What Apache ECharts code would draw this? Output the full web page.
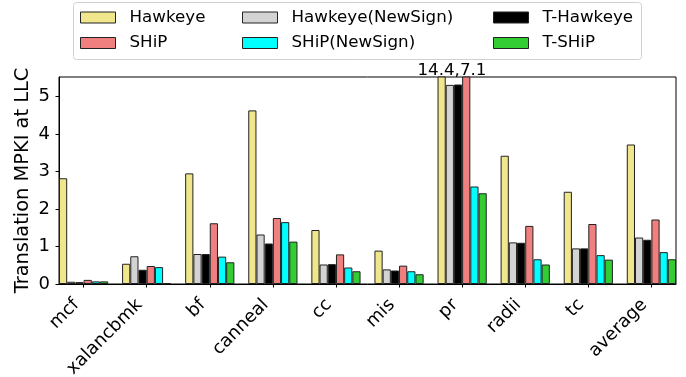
<!DOCTYPE html>
<html>
<head>
<meta charset="utf-8">
<script src="https://cdn.jsdelivr.net/npm/echarts@6/dist/echarts.min.js"></script>
<style>html,body{margin:0;padding:0;background:#fff}#c{width:686px;height:377px}</style>
</head>
<body>
<div id="c"></div>
<script>
const categories = ['mcf','xalancbmk','bf','canneal','cc','mis','pr','radii','tc','average'];
const hawkeye    = [2.82,0.54,2.95,4.63,1.44,0.89,14.4,3.42,2.46,3.72];
const hawkeyeNew = [0.06,0.74,0.80,1.32,0.52,0.39,5.31,1.11,0.95,1.24];
const tHawkeye   = [0.05,0.38,0.80,1.08,0.53,0.36,5.32,1.10,0.95,1.18];
const ship       = [0.11,0.48,1.62,1.76,0.79,0.49,7.1,1.55,1.60,1.72];
const shipNew    = [0.07,0.45,0.73,1.65,0.44,0.34,2.60,0.66,0.77,0.85];
const tShip      = [0.07,0.02,0.58,1.13,0.34,0.26,2.42,0.52,0.65,0.66];
const yTicks = [0,1,2,3,4,5];

const FONT = 'DejaVu Sans';
const FS = 16.7;     // legend / annotation
const FS_TICK = 18;  // tick labels
const FS_NAME = 19.4; // axis title
const BW = 0.13; // bar width in category units
const xMin = -3*BW, xMax = categories.length - 1 + 3*BW;
const gridLeft = 59, gridRight = 10;
const plotW = 686 - gridLeft - gridRight;
const barPx = plotW / (xMax - xMin) * BW;

const seriesDefs = [
  {name:'Hawkeye', data:hawkeye, color:'#F0E68C'},
  {name:'Hawkeye(NewSign)', data:hawkeyeNew, color:'#D3D3D3'},
  {name:'T-Hawkeye', data:tHawkeye, color:'#000000'},
  {name:'SHiP', data:ship, color:'#F08080'},
  {name:'SHiP(NewSign)', data:shipNew, color:'#00FFFF'},
  {name:'T-SHiP', data:tShip, color:'#32CD32'}
];
const idx = categories.map((c,i)=>i);

const chart = echarts.init(document.getElementById('c'), null, {renderer:'canvas'});
const legendCommon = {
  orient:'vertical', padding:0, itemWidth:35, itemHeight:11, itemGap:5.5, icon:'rect',
  top:7.5,
  textStyle:{fontFamily:FONT, fontSize:FS, color:'#000', lineHeight:20, padding:[0,0,0,9]},
  itemStyle:{borderColor:'#222', borderWidth:1}
};
const option = {
  animation:false,
  textStyle:{fontFamily:FONT},
  grid:{left:gridLeft, right:gridRight, top:77, bottom:93, outerBoundsMode:'none', containLabel:false,
    show:true, borderColor:'#000', borderWidth:1, backgroundColor:'transparent'},
  legend:[
    Object.assign({}, legendCommon, {left:80, data:['Hawkeye','SHiP']}),
    Object.assign({}, legendCommon, {left:242, data:['Hawkeye(NewSign)','SHiP(NewSign)']}),
    Object.assign({}, legendCommon, {left:493, data:['T-Hawkeye','T-SHiP']})
  ],
  xAxis:{
    type:'value', min:xMin, max:xMax,
    splitLine:{show:false},
    axisLine:{onZero:false, lineStyle:{color:'#000', width:1}},
    axisTick:{show:true, length:3.5, customValues:idx, lineStyle:{color:'#000'}},
    axisLabel:{customValues:idx, rotate:45, margin:11, padding:[0,10,0,0], fontFamily:FONT, fontSize:FS_TICK, color:'#000',
      formatter:v=>categories[Math.round(v)]}
  },
  yAxis:{
    type:'value', min:0, max:5.52,
    name:'Translation MPKI at LLC', nameLocation:'middle', nameGap:27, nameMoveOverlap:false,
    nameTextStyle:{fontFamily:FONT, fontSize:FS_NAME, color:'#000'},
    splitLine:{show:false},
    axisLine:{show:true, onZero:false, lineStyle:{color:'#000', width:1}},
    axisTick:{show:true, length:3.5, customValues:yTicks, lineStyle:{color:'#000'}},
    axisLabel:{customValues:yTicks, margin:9, fontFamily:FONT, fontSize:FS_TICK, color:'#000'}
  },
  series: seriesDefs.map(s=>({
    name:s.name, type:'bar', barWidth:barPx, barGap:'0%',
    data: s.data.map((v,i)=>[i,v]),
    itemStyle:{color:s.color, borderColor:'#222', borderWidth:1},
    clip:true
  })),
  graphic:[{type:'rect', z:-1, shape:{x:73.5, y:2.5, width:568, height:57, r:3},
    style:{fill:'#fff', stroke:'#d0d0d0', lineWidth:1}}]
};
chart.setOption(option);

// annotation for clipped pr bars
const prIdx = categories.indexOf('pr');
const yTop = chart.getModel().getComponent('yAxis',0).axis.scale.getExtent()[1];
const pos = chart.convertToPixel({gridIndex:0}, [prIdx - BW, yTop]);
chart.setOption({graphic:[option.graphic[0], {type:'text', x:pos[0] - 2, y:pos[1]+2,
  style:{text: hawkeye[prIdx] + ',' + ship[prIdx], fontFamily:FONT, fontSize:FS, fill:'#000', align:'center', verticalAlign:'bottom'}}]});
</script>
</body>
</html>
